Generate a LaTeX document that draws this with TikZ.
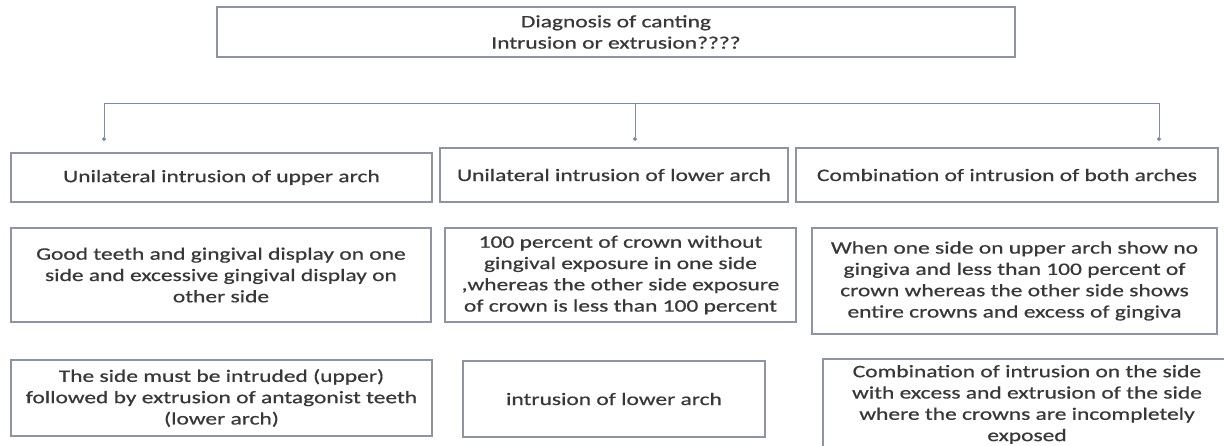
\documentclass[tikz,border=0pt]{standalone}
\usepackage{fontspec}
\setmainfont{Carlito}[FakeStretch=1.34,FakeBold=0.6]
\usetikzlibrary{arrows.meta}
\definecolor{boxline}{HTML}{8E94A0}
\definecolor{connline}{HTML}{7F8AA8}
\definecolor{txt}{HTML}{383838}
\tikzset{
  boxnode/.style={draw=boxline, line width=1.2pt, rectangle, inner sep=0pt,
    align=center, text=txt, font=\fontsize{17.5}{21.3}\selectfont},
  conn/.style={draw=connline, line width=0.9pt},
  connend/.style={conn, -{Circle[length=4pt,fill=connline]}}
}
\newcommand{\bx}[6]{% name, x1, y1, x2, y2, text
  \node[boxnode, minimum width={#4-#2}, minimum height={#5-#3}]
    (#1) at ({(#2+#4)/2},{(#3+#5)/2}) {#6};}
\begin{document}
\begin{tikzpicture}[x=1pt,y=-1pt]
\useasboundingbox (0,0) rectangle (1224,446);
\clip (0,0) rectangle (1224,446);
\fill[white] (0,0) rectangle (1224,446);

% top box
\bx{top}{217}{7}{1015}{57}{Diagnosis of canting\\Intrusion or extrusion????}

% row 1
\bx{ua}{11}{153}{432}{202}{Unilateral intrusion of upper arch}
\bx{la}{440}{148}{788}{202}{Unilateral intrusion of lower arch}
\bx{ba}{796}{148}{1218}{202}{Combination of intrusion of both arches}

% row 2
\bx{ub}{11}{228}{431}{322}{Good teeth and gingival display on one\\side and excessive gingival display on\\other side}
\bx{lb}{445}{228}{796}{322}{100 percent of crown without\\gingival exposure in one side\\,whereas the other side exposure\\of crown is less than 100 percent}
\bx{bb}{812}{228}{1217}{334}{When one side on upper arch show no\\gingiva and less than 100 percent of\\crown whereas the other side shows\\entire crowns and excess of gingiva}

% row 3
\bx{uc}{11}{360}{432}{436}{The side must be intruded (upper)\\followed by extrusion of antagonist teeth\\(lower arch)}
\bx{lc}{463}{361}{765}{437}{intrusion of lower arch}
\bx{bc}{823}{359}{1231}{450}{Combination of intrusion on the side\\with excess and extrusion of the side\\where the crowns are incompletely\\exposed}

% connectors
\coordinate (h1) at (104,103);
\coordinate (h2) at (635,103);
\coordinate (h3) at (1159,103);
\coordinate (d1) at (104,141);
\coordinate (d2) at (635,141);
\coordinate (d3) at (1159,141);
\draw[conn] (h1) -- (h3);
\draw[connend] (h1) -- (d1);
\draw[connend] (h2) -- (d2);
\draw[connend] (h3) -- (d3);
\end{tikzpicture}
\end{document}
